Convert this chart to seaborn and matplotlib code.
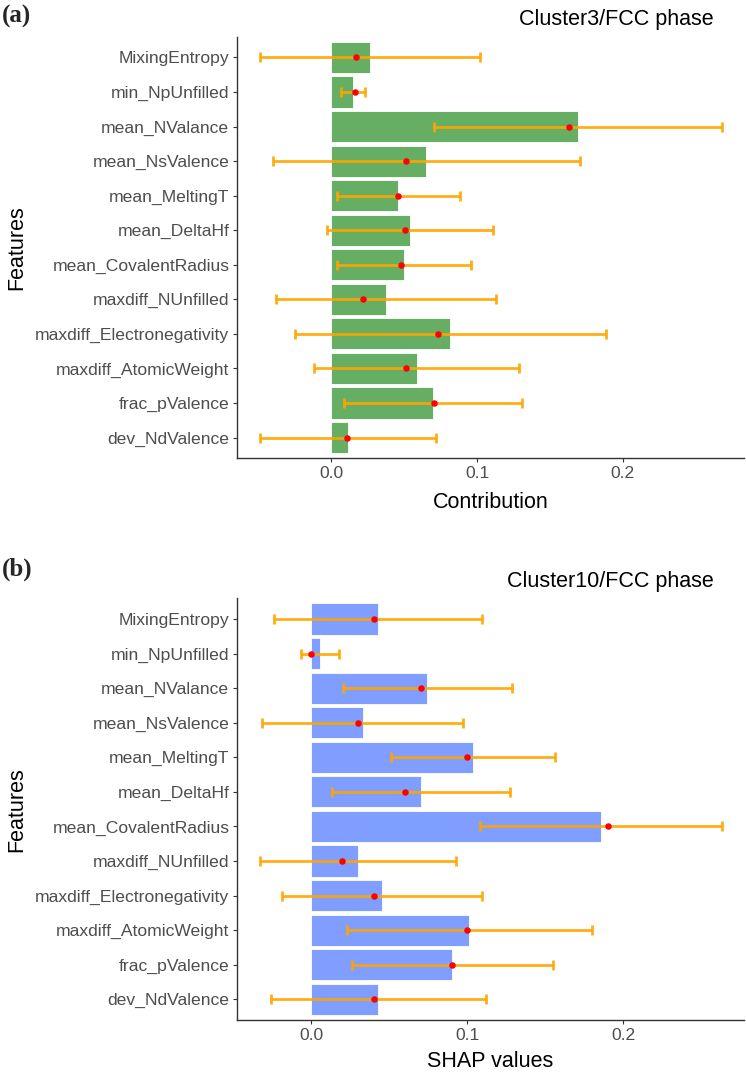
import numpy as np
import pandas as pd
import matplotlib
matplotlib.use("Agg")
import matplotlib.pyplot as plt
import seaborn as sns

features = ["MixingEntropy", "min_NpUnfilled", "mean_NValance", "mean_NsValence",
            "mean_MeltingT", "mean_DeltaHf", "mean_CovalentRadius", "maxdiff_NUnfilled",
            "maxdiff_Electronegativity", "maxdiff_AtomicWeight", "frac_pValence", "dev_NdValence"]

# Panel (a): Cluster3/FCC phase
a_bar = [0.0267, 0.0148, 0.169, 0.0653, 0.0461, 0.0541, 0.050, 0.0374, 0.0815, 0.0587, 0.070, 0.0114]
a_pt = [0.0173, 0.016, 0.163, 0.0516, 0.0459, 0.0505, 0.0475, 0.0219, 0.073, 0.0514, 0.0705, 0.0105]
a_lo = [-0.0486, 0.0064, 0.0705, -0.040, 0.0041, -0.0032, 0.0041, -0.0379, -0.0251, -0.0119, 0.0091, -0.049]
a_hi = [0.102, 0.0235, 0.2676, 0.1708, 0.0884, 0.1112, 0.0961, 0.113, 0.1886, 0.129, 0.131, 0.0721]

# Panel (b): Cluster10/FCC phase
b_bar = [0.0427, 0.0053, 0.0745, 0.0331, 0.1035, 0.0702, 0.1855, 0.0299, 0.0452, 0.101, 0.0903, 0.0427]
b_pt = [0.0401, 0.0, 0.0702, 0.0301, 0.100, 0.0602, 0.1904, 0.020, 0.0401, 0.100, 0.0903, 0.0401]
b_lo = [-0.0237, -0.0066, 0.0203, -0.0314, 0.0508, 0.0132, 0.108, -0.0331, -0.019, 0.0228, 0.0262, -0.026]
b_hi = [0.1097, 0.0175, 0.129, 0.0975, 0.1564, 0.1272, 0.263, 0.0928, 0.1097, 0.1797, 0.1547, 0.112]

xticks = [0.0, 0.1, 0.2]
xticklabels = ["0.0", "0.1", "0.2"]

sns.set_style("white")
plt.rcParams['font.family'] = ['Liberation Sans', 'DejaVu Sans']

fig = plt.figure(figsize=(7.46, 10.72), dpi=100)

panels = [
    dict(rect=[0.3177, 0.5725, 0.6796, 0.3933], bar=a_bar, pt=a_pt, lo=a_lo, hi=a_hi,
         color="#65AE63", xlim=(-0.0646, 0.283), xlabel="Contribution", pad=8,
         title="Cluster3/FCC phase", tag="(a)", tag_y=1 - 16 / 1072, title_y=1 - 19 / 1072),
    dict(rect=[0.3177, 0.0485, 0.6796, 0.3934], bar=b_bar, pt=b_pt, lo=b_lo, hi=b_hi,
         color="#7F9EFF", xlim=(-0.0476, 0.2774), xlabel="SHAP values", pad=6,
         title="Cluster10/FCC phase", tag="(b)", tag_y=1 - 569 / 1072, title_y=1 - 582 / 1072),
]

for p in panels:
    ax = fig.add_axes(p["rect"])
    df = pd.DataFrame({"Features": features, "value": p["bar"]})
    sns.barplot(data=df, x="value", y="Features", orient="h", color=p["color"],
                saturation=1, width=0.9, ax=ax, edgecolor="white", linewidth=0.6)
    pos = np.arange(len(features))
    pt = np.array(p["pt"])
    lo = np.array(p["lo"])
    hi = np.array(p["hi"])
    ax.errorbar(pt, pos, xerr=[pt - lo, hi - pt], fmt="none", ecolor="orange",
                alpha=0.9, elinewidth=2.0, capsize=3.3, capthick=2.0, zorder=3)
    ax.scatter(pt, pos, color="red", s=22, zorder=4, linewidths=0)
    ax.set_xlim(*p["xlim"])
    ax.set_ylim(len(features) - 0.4, -0.6)
    ax.set_xticks(xticks)
    ax.set_xticklabels(xticklabels)
    ax.set_xlabel(p["xlabel"], fontsize=15.5, color="black", labelpad=p["pad"])
    ax.set_ylabel("Features", fontsize=15.5, color="black", labelpad=6)
    ax.tick_params(axis="both", labelsize=12.6, labelcolor="#4D4D4D", color="#333333",
                   length=3, width=0.8, direction="out", left=True, bottom=True, pad=2.5)
    for s in ["top", "right"]:
        ax.spines[s].set_visible(False)
    for s in ["left", "bottom"]:
        ax.spines[s].set_color("#333333")
        ax.spines[s].set_linewidth(1.0)
    fig.text(0.957, p["title_y"], p["title"], ha="right", va="center", fontsize=15.5, color="black")
    fig.text(0.003, p["tag_y"], p["tag"], ha="left", va="center", fontsize=18,
             fontweight="bold", family=["Liberation Serif", "DejaVu Serif"])

fig.savefig("out.png", dpi=100)
